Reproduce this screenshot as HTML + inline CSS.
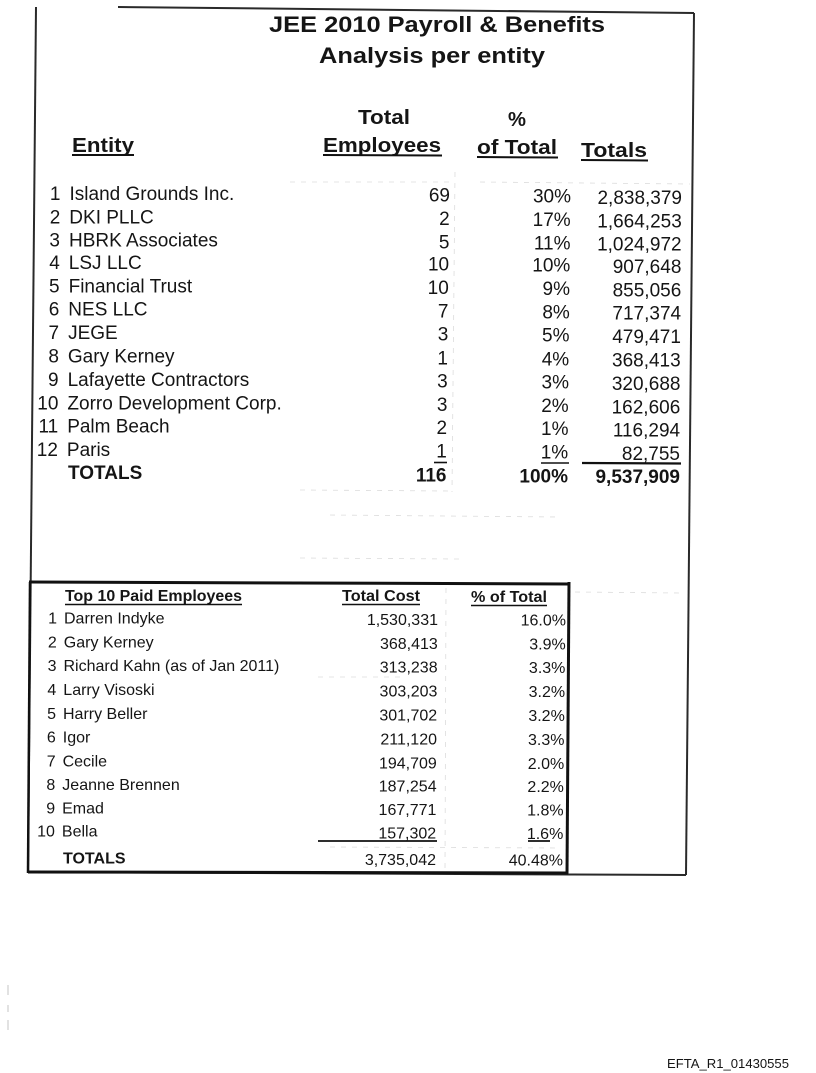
<!DOCTYPE html>
<html>
<head>
<meta charset="utf-8">
<style>
  html,body{margin:0;padding:0;background:#fff;}
  svg{display:block;}
  text{font-family:"Liberation Sans", Arial, sans-serif; fill:#151515;}
  .t{font-weight:bold;font-size:22.5px;}
  .h{font-weight:bold;font-size:20px;}
  .r{font-size:19px;}
  .rb{font-size:19px;font-weight:bold;}
  .s{font-size:16px;}
  .sb{font-size:16px;font-weight:bold;}
  .e{text-anchor:end;}
</style>
</head>
<body>
<svg width="816" height="1073" viewBox="0 0 816 1073" xmlns="http://www.w3.org/2000/svg">
  <rect width="816" height="1073" fill="#fff"/>

  <!-- faint scan gridlines -->
  <g stroke="#dcdcdc" stroke-width="0.8" stroke-dasharray="5 6" fill="none">
    <line x1="455" y1="172" x2="452" y2="492"/>
    <line x1="446" y1="588" x2="445" y2="870"/>
    <line x1="290" y1="182" x2="455" y2="182"/>
    <line x1="480" y1="182" x2="690" y2="184"/>
    <line x1="300" y1="490" x2="450" y2="491"/>
    <line x1="330" y1="515" x2="560" y2="517"/>
    <line x1="300" y1="558" x2="460" y2="559"/>
    <line x1="575" y1="592" x2="680" y2="593"/>
    <line x1="318" y1="677" x2="400" y2="677"/>
    <line x1="330" y1="847" x2="560" y2="848"/>
  </g>
  <g stroke="#c4c4c4" stroke-width="1">
    <line x1="8" y1="985" x2="8" y2="995"/>
    <line x1="8" y1="1005" x2="8" y2="1012"/>
    <line x1="8" y1="1020" x2="8" y2="1030"/>
  </g>

  <!-- outer frame -->
  <g stroke="#2a2a2a" stroke-width="2" fill="none">
    <line x1="36" y1="7" x2="28" y2="873"/>
    <line x1="118" y1="7" x2="694" y2="13"/>
    <line x1="694" y1="13" x2="686" y2="875"/>
    <line x1="28" y1="872" x2="686" y2="875"/>
  </g>

  <!-- lower table box -->
  <g stroke="#111" fill="none">
    <line x1="29" y1="582" x2="570" y2="584" stroke-width="3"/>
    <line x1="569" y1="582" x2="567" y2="874" stroke-width="3"/>
    <line x1="28" y1="872" x2="568" y2="873" stroke-width="3"/>
    <line x1="30" y1="582" x2="28" y2="873" stroke-width="2.5"/>
  </g>

  <!-- title -->
  <text class="t" x="269" y="32" textLength="336" lengthAdjust="spacingAndGlyphs">JEE 2010 Payroll &amp; Benefits</text>
  <text class="t" x="319" y="63" textLength="226" lengthAdjust="spacingAndGlyphs">Analysis per entity</text>

  <!-- headers -->
  <text class="h" x="358" y="124" textLength="52" lengthAdjust="spacingAndGlyphs">Total</text>
  <text class="h" x="508" y="126" textLength="18" lengthAdjust="spacingAndGlyphs">%</text>
  <text class="h" x="72" y="152" textLength="62" lengthAdjust="spacingAndGlyphs">Entity</text>
  <text class="h" x="323" y="152" textLength="118" lengthAdjust="spacingAndGlyphs">Employees</text>
  <text class="h" x="477" y="154" textLength="80" lengthAdjust="spacingAndGlyphs">of Total</text>
  <text class="h" x="581" y="157" textLength="66" lengthAdjust="spacingAndGlyphs">Totals</text>
  <g stroke="#111" stroke-width="2">
    <line x1="72" y1="155" x2="134" y2="155"/>
    <line x1="323" y1="155" x2="442" y2="155.5"/>
    <line x1="477" y1="157" x2="558" y2="157.5"/>
    <line x1="581" y1="160" x2="648" y2="160.5"/>
  </g>

  <!-- entity rows -->
  <g class="r">
    <text class="r e" x="60.5" y="200">1</text><text class="r" x="69.5" y="200">Island Grounds Inc.</text>
    <text class="r e" x="60.3" y="223.3">2</text><text class="r" x="69.3" y="223.3">DKI PLLC</text>
    <text class="r e" x="60.0" y="246.7">3</text><text class="r" x="69.0" y="246.7">HBRK Associates</text>
    <text class="r e" x="59.8" y="269">4</text><text class="r" x="68.8" y="269">LSJ LLC</text>
    <text class="r e" x="59.6" y="292.3">5</text><text class="r" x="68.6" y="292.3">Financial Trust</text>
    <text class="r e" x="59.3" y="315.7">6</text><text class="r" x="68.3" y="315.7">NES LLC</text>
    <text class="r e" x="59.1" y="339">7</text><text class="r" x="68.1" y="339">JEGE</text>
    <text class="r e" x="58.9" y="362.7">8</text><text class="r" x="67.9" y="362.7">Gary Kerney</text>
    <text class="r e" x="58.6" y="386">9</text><text class="r" x="67.6" y="386">Lafayette Contractors</text>
    <text class="r e" x="58.4" y="409.3">10</text><text class="r" x="67.4" y="409.3">Zorro Development Corp.</text>
    <text class="r e" x="58.2" y="432.3">11</text><text class="r" x="67.2" y="432.3">Palm Beach</text>
    <text class="r e" x="57.9" y="456">12</text><text class="r" x="66.9" y="456">Paris</text>
    <text class="rb" x="68" y="479">TOTALS</text>
  </g>

  <!-- employees column -->
  <g>
    <text class="r e" x="450" y="201.7">69</text>
    <text class="r e" x="449.7" y="225">2</text>
    <text class="r e" x="449.4" y="248.4">5</text>
    <text class="r e" x="449.1" y="270.7">10</text>
    <text class="r e" x="448.8" y="294">10</text>
    <text class="r e" x="448.5" y="317.4">7</text>
    <text class="r e" x="448.3" y="340.7">3</text>
    <text class="r e" x="448.0" y="364.4">1</text>
    <text class="r e" x="447.7" y="387.7">3</text>
    <text class="r e" x="447.4" y="411">3</text>
    <text class="r e" x="447.1" y="434">2</text>
    <text class="r e" x="446.8" y="457.7">1</text>
    <text class="rb e" x="446.5" y="481.3">116</text>
  </g>

  <!-- % column -->
  <g>
    <text class="r e" x="571" y="202.7">30%</text>
    <text class="r e" x="570.7" y="226">17%</text>
    <text class="r e" x="570.5" y="249.4">11%</text>
    <text class="r e" x="570.3" y="271.7">10%</text>
    <text class="r e" x="570.0" y="295">9%</text>
    <text class="r e" x="569.8" y="318.4">8%</text>
    <text class="r e" x="569.5" y="341.7">5%</text>
    <text class="r e" x="569.2" y="365.4">4%</text>
    <text class="r e" x="569.0" y="388.7">3%</text>
    <text class="r e" x="568.7" y="412">2%</text>
    <text class="r e" x="568.5" y="435">1%</text>
    <text class="r e" x="568.2" y="458.7">1%</text>
    <text class="rb e" x="568" y="482.3">100%</text>
  </g>

  <!-- totals column -->
  <g>
    <text class="r e" x="682" y="204">2,838,379</text>
    <text class="r e" x="681.8" y="227.3">1,664,253</text>
    <text class="r e" x="681.6" y="250.7">1,024,972</text>
    <text class="r e" x="681.4" y="273">907,648</text>
    <text class="r e" x="681.3" y="296.3">855,056</text>
    <text class="r e" x="681.1" y="319.7">717,374</text>
    <text class="r e" x="680.9" y="343">479,471</text>
    <text class="r e" x="680.7" y="366.7">368,413</text>
    <text class="r e" x="680.5" y="390">320,688</text>
    <text class="r e" x="680.3" y="413.3">162,606</text>
    <text class="r e" x="680.1" y="436.3">116,294</text>
    <text class="r e" x="680" y="460">82,755</text>
    <text class="rb e" x="680" y="483">9,537,909</text>
  </g>

  <!-- row 12 underlines -->
  <g stroke="#111">
    <line x1="434" y1="462.5" x2="447" y2="462.5" stroke-width="1.6"/>
    <line x1="541" y1="463" x2="569" y2="463" stroke-width="1.6"/>
    <line x1="582" y1="463" x2="681" y2="463.5" stroke-width="2.2"/>
  </g>

  <!-- lower table headers -->
  <text class="sb" x="65" y="601" textLength="177" lengthAdjust="spacingAndGlyphs">Top 10 Paid Employees</text>
  <text class="sb" x="342" y="601" textLength="78" lengthAdjust="spacingAndGlyphs">Total Cost</text>
  <text class="sb" x="471" y="602" textLength="76" lengthAdjust="spacingAndGlyphs">% of Total</text>
  <g stroke="#111" stroke-width="1.6">
    <line x1="65" y1="604.5" x2="242" y2="604.5"/>
    <line x1="342" y1="604.5" x2="420" y2="604.5"/>
    <line x1="471" y1="605.5" x2="547" y2="605.5"/>
  </g>

  <!-- lower table rows -->
  <g>
    <text class="s e" x="57" y="623.3">1</text><text class="s" x="64" y="623.3">Darren Indyke</text>
    <text class="s e" x="56.8" y="647.3">2</text><text class="s" x="63.8" y="647.3">Gary Kerney</text>
    <text class="s e" x="56.5" y="671">3</text><text class="s" x="63.5" y="671">Richard Kahn (as of Jan 2011)</text>
    <text class="s e" x="56.3" y="695">4</text><text class="s" x="63.3" y="695">Larry Visoski</text>
    <text class="s e" x="56.0" y="719">5</text><text class="s" x="63.0" y="719">Harry Beller</text>
    <text class="s e" x="55.8" y="742.7">6</text><text class="s" x="62.8" y="742.7">Igor</text>
    <text class="s e" x="55.6" y="766.7">7</text><text class="s" x="62.6" y="766.7">Cecile</text>
    <text class="s e" x="55.3" y="790">8</text><text class="s" x="62.3" y="790">Jeanne Brennen</text>
    <text class="s e" x="55.1" y="813.3">9</text><text class="s" x="62.1" y="813.3">Emad</text>
    <text class="s e" x="54.9" y="836.7">10</text><text class="s" x="61.9" y="836.7">Bella</text>
    <text class="sb" x="63" y="863.3">TOTALS</text>
  </g>
  <g>
    <text class="s e" x="438" y="625">1,530,331</text>
    <text class="s e" x="437.8" y="649">368,413</text>
    <text class="s e" x="437.6" y="672.7">313,238</text>
    <text class="s e" x="437.4" y="696.7">303,203</text>
    <text class="s e" x="437.2" y="720.7">301,702</text>
    <text class="s e" x="437.0" y="744.4">211,120</text>
    <text class="s e" x="436.8" y="768.4">194,709</text>
    <text class="s e" x="436.6" y="791.7">187,254</text>
    <text class="s e" x="436.4" y="815">167,771</text>
    <text class="s e" x="436.2" y="838.4">157,302</text>
    <text class="s e" x="436" y="865">3,735,042</text>
  </g>
  <g>
    <text class="s e" x="566" y="625.5">16.0%</text>
    <text class="s e" x="565.7" y="649.5">3.9%</text>
    <text class="s e" x="565.4" y="673.2">3.3%</text>
    <text class="s e" x="565.1" y="697.2">3.2%</text>
    <text class="s e" x="564.8" y="721.2">3.2%</text>
    <text class="s e" x="564.5" y="744.9">3.3%</text>
    <text class="s e" x="564.2" y="768.9">2.0%</text>
    <text class="s e" x="563.9" y="792.2">2.2%</text>
    <text class="s e" x="563.6" y="815.5">1.8%</text>
    <text class="s e" x="563.3" y="838.9">1.6%</text>
    <text class="s e" x="563" y="865.5">40.48%</text>
  </g>
  <g stroke="#111" stroke-width="1.8">
    <line x1="318" y1="841" x2="437" y2="841"/>
    <line x1="528" y1="841" x2="550" y2="841"/>
  </g>

  <!-- footer label -->
  <text x="667" y="1068" style="font-size:13px;" textLength="122" lengthAdjust="spacingAndGlyphs">EFTA_R1_01430555</text>
</svg>
</body>
</html>
